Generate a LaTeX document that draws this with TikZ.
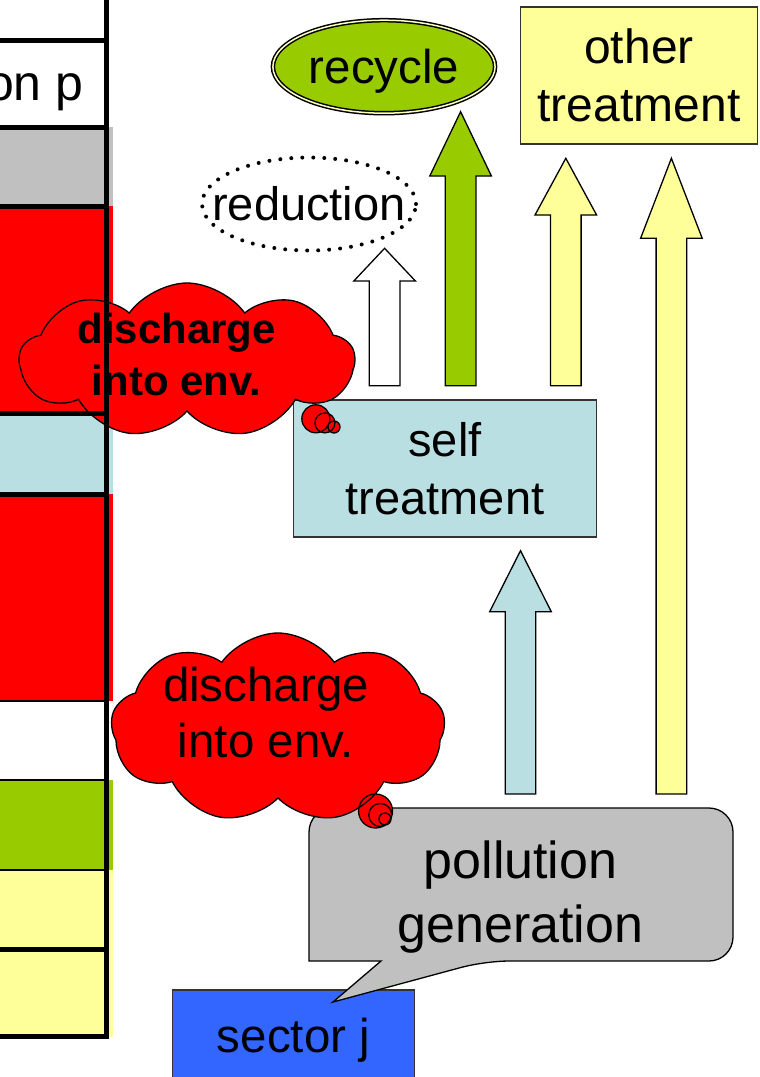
\documentclass[tikz,border=0pt]{standalone}
\usepackage{fontspec}
\setmainfont{Liberation Sans}
\usetikzlibrary{shapes.geometric,shapes.symbols,shapes.callouts}
\definecolor{colorGen}{HTML}{C0C0C0}
\definecolor{colorEnv}{HTML}{FF0000}
\definecolor{colorSelf}{HTML}{BADFE2}
\definecolor{colorRec}{HTML}{99CC00}
\definecolor{colorOth}{HTML}{FFFF99}
\definecolor{colorSec}{HTML}{3366FF}
\tikzset{
   box/.style={rectangle,draw=black!80,line width=1.3pt,align=center},
   tabline/.style={line width=5pt},
   tabthin/.style={line width=2pt},
   blockarr/.style={draw=black,line width=1.3pt},
   dots/.style={line width=4pt,dash pattern=on 0pt off 11pt,line cap=round},
   envcloud/.style={cloud callout,draw=black,line width=1.3pt,fill=colorEnv,
      cloud puffs=9,cloud puff arc=110,aspect=2.2,callout pointer segments=3},
}
\newcommand{\blockup}[5]{%
   \filldraw[blockarr,fill=#1] (#2-15.3,#3) -- (#2-15.3,#4+#5) -- (#2-30.8,#4+#5) -- (#2,#4)
      -- (#2+30.8,#4+#5) -- (#2+15.3,#4+#5) -- (#2+15.3,#3) -- cycle;}

\begin{document}
\begin{tikzpicture}[x=1pt,y=-1pt]
        \useasboundingbox (0,0) rectangle (760,1077);

        \fill[colorGen]  (0,127) rectangle (112.7,206);
        \fill[colorEnv]  (0,206) rectangle (112.7,413);
        \fill[colorSelf] (0,413) rectangle (112.7,494);
        \fill[colorEnv]  (0,494) rectangle (112.7,701);
        \fill[colorRec]  (0,780) rectangle (112.7,870);
        \fill[colorOth]  (0,870) rectangle (112.7,1036.5);
        \node[anchor=base east,font=\fontsize{50}{60}\selectfont] (rowp) at (87,100) {on p};

        \node[box,fill=colorSelf,minimum width=303pt,minimum height=137pt,
              font=\fontsize{47}{58}\selectfont] (selftr) at (445,468.5) {self\\treatment};
        \node[box,fill=colorOth,minimum width=237pt,minimum height=137pt,
              font=\fontsize{48}{58}\selectfont] (othtr) at (639,75.5) {other\\treatment};
        \node[ellipse,draw,line width=1.5pt,double=colorOth!60,double distance=1.5pt,fill=colorRec,
              minimum width=213pt,minimum height=93pt,text depth=0pt,
              font=\fontsize{47.5}{56}\selectfont] (recyc) at (384,66.7) {recycle};
        \node[font=\fontsize{47}{56}\selectfont] (reduc) at (309,204) {reduction};
        \draw[dots] (reduc.center) ellipse [x radius=107pt,y radius=46.5pt];

        \blockup{white}{384.6}{385.7}{248.3}{32.7}
        \blockup{colorRec}{460.6}{385.7}{111.7}{64.3}
        \blockup{colorOth}{565.8}{385.7}{158.3}{56.7}
        \blockup{colorOth}{671.4}{794}{158.3}{80}
        \blockup{colorSelf}{520.5}{794}{550.7}{61}

        \node[envcloud,minimum width=335pt,minimum height=155pt,
              callout absolute pointer={(334,427)},
              callout pointer start size=36pt and 36pt,callout pointer end size=12pt and 12pt] (env1) at (187,360.5) {};
        \node[align=center,font=\bfseries\fontsize{42}{52}\selectfont] (env1txt)
              at ([shift={(-10.3,-6.5)}]env1.center) {discharge\\into env.};

        \draw[tabline] (106.7,0) -- (106.7,1039);
        \foreach \yy in {40,127,206,413,494,949,1036.5}
           \draw[tabline] (0,\yy) -- (106.7,\yy);
        \foreach \yy in {701,780,870}
           \draw[tabthin] (0,\yy) -- (106.7,\yy);

        \node[box,fill=colorSec,minimum width=242pt,minimum height=100pt,
              font=\fontsize{47.5}{56}\selectfont] (sector) at (293.5,1040) {sector j};
        \filldraw[draw=black,line width=1.3pt,fill=colorGen] (309,884) [rounded corners=24pt] -- (309,808)
              -- (733,808) -- (733,961) -- (485,961) [sharp corners] -- (333,1002) -- (381,961)
              -- (309,961) [rounded corners=24pt] -- cycle;
        \node[align=center,font=\fontsize{52}{64}\selectfont] (gen) at (520.5,897) {pollution\\generation};

        \node[envcloud,minimum width=334pt,minimum height=190pt,
              callout absolute pointer={(385,819)},
              callout pointer start size=45pt and 45pt,callout pointer end size=12pt and 12pt] (env2) at (278,728) {};
        \node[align=center,font=\fontsize{47.5}{56}\selectfont] (env2txt)
              at ([shift={(-12,-15)}]env2.center) {discharge\\into env.};
\end{tikzpicture}
\end{document}
